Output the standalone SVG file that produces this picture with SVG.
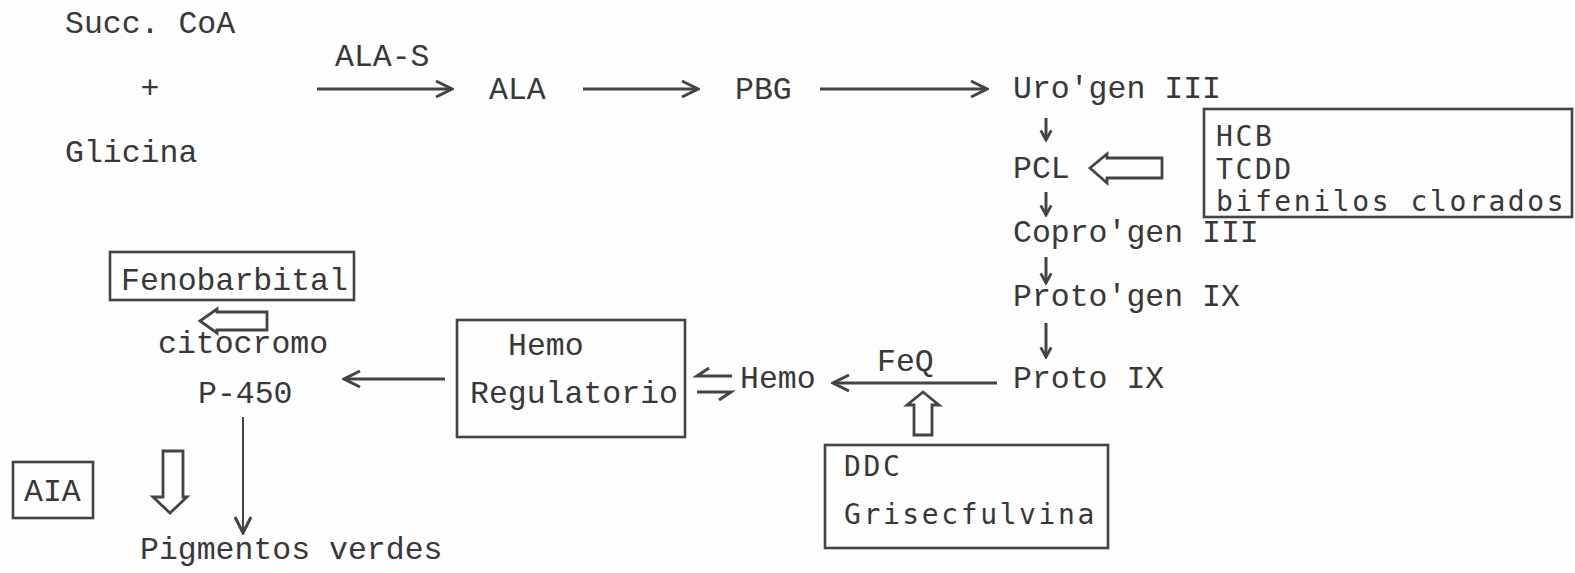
<svg xmlns="http://www.w3.org/2000/svg" width="1575" height="573" viewBox="0 0 1575 573">
<style>
text{font-family:"Liberation Mono","Courier New",monospace;font-size:31.5px;fill:#383838}
.sans{font-family:"DejaVu Sans Mono","Liberation Mono",monospace;font-size:28px;letter-spacing:2.6px}
.box{fill:none;stroke:#444;stroke-width:2.6}
.ln{fill:none;stroke:#444;stroke-width:3}
.thin{fill:none;stroke:#444;stroke-width:2}
.hollow{fill:#fdfdfd;stroke:#444;stroke-width:2.8;stroke-linejoin:miter}
</style>
<defs>
<marker id="chev" viewBox="0 0 20 20" refX="18" refY="10" markerWidth="20" markerHeight="20" markerUnits="userSpaceOnUse" orient="auto">
<path d="M2,2 L18,10 L2,18" fill="none" stroke="#444" stroke-width="3"/>
</marker>
<marker id="small" viewBox="0 0 16 16" refX="14" refY="8" markerWidth="14" markerHeight="14" markerUnits="userSpaceOnUse" orient="auto">
<path d="M3,2 L14,8 L3,14" fill="none" stroke="#444" stroke-width="3.2"/>
</marker>
</defs>
<rect width="1575" height="573" fill="#fdfdfd"/>

<g id="connectors">
<line class="ln" x1="317" y1="89" x2="452" y2="89" marker-end="url(#chev)"/>
<line class="ln" x1="583" y1="89" x2="698" y2="89" marker-end="url(#chev)"/>
<line class="ln" x1="820" y1="89" x2="987" y2="89" marker-end="url(#chev)"/>
<line class="ln" x1="1046" y1="118" x2="1046" y2="140" marker-end="url(#small)"/>
<line class="ln" x1="1046" y1="192" x2="1046" y2="215" marker-end="url(#small)"/>
<line class="ln" x1="1046" y1="257" x2="1046" y2="283" marker-end="url(#small)"/>
<line class="ln" x1="1046" y1="323" x2="1046" y2="357" marker-end="url(#small)"/>
<line class="ln" x1="997" y1="383" x2="833" y2="383" marker-end="url(#chev)"/>
<line class="ln" x1="445" y1="379" x2="344" y2="379" marker-end="url(#chev)"/>
<line class="thin" x1="243" y1="417" x2="243" y2="533" marker-end="url(#chev)"/>
<path class="ln" d="M732,376 L697,376 L709,368"/>
<path class="ln" d="M697,392 L731,392 L719,400"/>
<polygon class="hollow" points="1090,168 1107,154 1107,158 1162,158 1162,178 1107,178 1107,183"/>
<polygon class="hollow" points="200,321 217,309 217,312 267,312 267,330 217,330 217,333"/>
<polygon class="hollow" points="923,392 939,405 932,405 932,435 914,435 914,405 907,405"/>
<polygon class="hollow" points="163,451 183,451 183,497 187,497 170,513 153,497 163,497"/>
</g>

<g id="succ"><text x="65" y="33">Succ. CoA</text></g>
<g id="plus"><text x="150" y="98" text-anchor="middle">+</text></g>
<g id="glicina"><text x="65" y="162">Glicina</text></g>
<g id="alas"><text x="335" y="66">ALA-S</text></g>
<g id="ala"><text x="489" y="99">ALA</text></g>
<g id="pbg"><text x="735" y="99">PBG</text></g>
<g id="urogen"><text x="1013" y="98">Uro'gen III</text></g>
<g id="pcl"><text x="1013" y="178">PCL</text></g>
<g id="hcb">
<rect class="box" x="1204" y="109" width="368" height="108"/>
<text class="sans" x="1216" y="146">HCB</text>
<text class="sans" x="1216" y="179">TCDD</text>
<text class="sans" x="1216" y="211">bifenilos clorados</text>
</g>
<g id="coprogen"><text x="1013" y="242">Copro'gen III</text></g>
<g id="protogen"><text x="1013" y="306">Proto'gen IX</text></g>
<g id="proto"><text x="1013" y="388">Proto IX</text></g>
<g id="feq"><text x="877" y="371">FeQ</text></g>
<g id="hemo"><text x="740" y="388">Hemo</text></g>
<g id="hemoreg">
<rect class="box" x="457" y="320" width="228" height="117"/>
<text x="508" y="355">Hemo</text>
<text x="470" y="403">Regulatorio</text>
</g>
<g id="ddc">
<rect class="box" x="825" y="445" width="283" height="103"/>
<text class="sans" x="844" y="476">DDC</text>
<text class="sans" x="844" y="524">Grisecfulvina</text>
</g>
<g id="fenobarbital">
<rect class="box" x="110" y="252" width="244" height="48"/>
<text x="121" y="290">Fenobarbital</text>
</g>
<g id="citocromo">
<text x="158" y="353">citocromo</text>
<text x="198" y="403">P-450</text>
</g>
<g id="aia">
<rect class="box" x="13" y="462" width="80" height="56"/>
<text x="24" y="501">AIA</text>
</g>
<g id="pigmentos"><text x="140" y="559">Pigmentos verdes</text></g>
</svg>
